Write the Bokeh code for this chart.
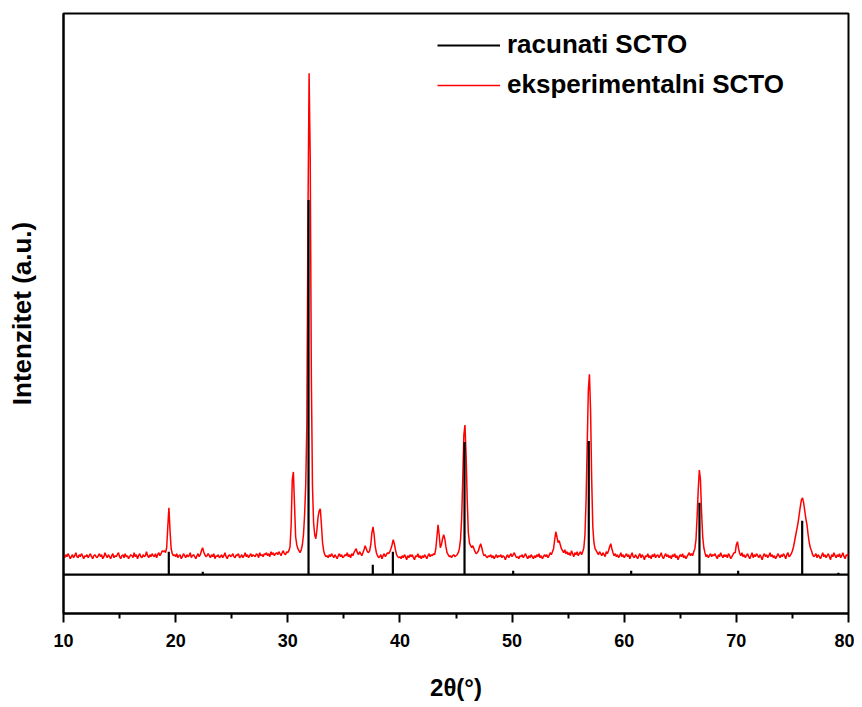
import numpy as np
from bokeh.plotting import figure
from bokeh.models import Range1d, FixedTicker, Legend, LegendItem
from bokeh.embed import file_html
from bokeh.resources import INLINE

# ---- data -------------------------------------------------------------
x_ticks = [10, 20, 30, 40, 50, 60, 70, 80]

# calculated pattern (stick positions / relative intensities)
calc_pos = [19.39, 22.42, 31.85, 37.58, 39.37, 45.76, 50.1, 56.84, 60.62, 66.71, 70.16, 75.87, 79.1]
calc_int = [23, 3, 376, 10, 23, 133, 4, 134, 4, 72, 4, 54, 2]

# experimental pattern, 2theta from 10.0 to 80.0, step 0.1
exp_start = 10.0
exp_step = 0.1
exp_intensity = [
    19, 17, 20, 18, 21, 19, 16, 18, 20, 17,   # 10
    19, 22, 18, 17, 20, 18, 21, 19, 16, 19,   # 11
    18, 20, 17, 19, 21, 18, 16, 19, 20, 18,   # 12
    17, 19, 21, 18, 20, 16, 18, 22, 19, 17,   # 13
    20, 18, 16, 19, 21, 17, 19, 18, 20, 22,   # 14
    18, 16, 19, 20, 17, 21, 18, 19, 16, 18,   # 15
    20, 19, 17, 22, 18, 20, 16, 19, 21, 18,   # 16
    17, 20, 18, 19, 23, 19, 17, 20, 18, 21,   # 17
    19, 18, 21, 17, 20, 22, 19, 21, 24, 23,   # 18
    24, 22, 27, 48, 67, 44, 26, 21, 19, 20,   # 19
    18, 21, 17, 19, 20, 16, 18, 21, 19, 17,   # 20
    20, 18, 19, 22, 17, 19, 20, 18, 16, 19,   # 21
    21, 18, 20, 24, 27, 23, 20, 18, 19, 21,   # 22
    19, 17, 20, 18, 21, 16, 19, 18, 20, 17,   # 23
    18, 20, 17, 19, 22, 18, 16, 19, 20, 18,   # 24
    19, 21, 18, 17, 20, 19, 21, 17, 18, 20,   # 25
    17, 19, 22, 18, 20, 17, 19, 21, 18, 20,   # 26
    19, 18, 21, 20, 17, 22, 19, 20, 18, 21,   # 27
    20, 22, 19, 21, 18, 23, 20, 22, 19, 21,   # 28
    22, 20, 23, 21, 19, 22, 24, 21, 20, 23,   # 29
    22, 24, 28, 50, 95, 103, 70, 38, 30, 26,  # 30
    24, 22, 25, 30, 40, 60, 90, 150, 360, 503,  # 31
    420, 200, 90, 52, 40, 36, 45, 58, 64, 66,  # 32
    50, 32, 24, 20, 18, 19, 17, 20, 18, 21,   # 33
    19, 17, 20, 18, 16, 19, 21, 18, 20, 17,   # 34
    18, 20, 19, 22, 18, 20, 17, 21, 19, 22,   # 35
    24, 26, 22, 20, 23, 21, 19, 22, 25, 29,   # 36
    26, 23, 22, 24, 30, 42, 48, 40, 28, 22,   # 37
    19, 17, 18, 20, 16, 19, 21, 18, 20, 22,   # 38
    21, 23, 26, 30, 35, 31, 25, 20, 18, 17,   # 39
    18, 16, 19, 17, 20, 18, 15, 19, 17, 20,   # 40
    18, 20, 17, 15, 19, 18, 21, 17, 19, 16,   # 41
    19, 17, 20, 18, 16, 19, 21, 18, 20, 19,   # 42
    21, 20, 26, 38, 50, 40, 27, 30, 36, 40,   # 43
    36, 28, 22, 20, 18, 19, 17, 19, 20, 18,   # 44
    19, 20, 22, 26, 35, 55, 95, 140, 150, 120,  # 45
    75, 42, 32, 29, 27, 29, 26, 23, 21, 22,   # 46
    24, 28, 31, 27, 22, 19, 20, 18, 17, 19,   # 47
    18, 20, 17, 19, 16, 18, 20, 17, 19, 18,   # 48
    20, 17, 19, 18, 15, 18, 20, 17, 19, 21,   # 49
    18, 20, 22, 19, 17, 18, 16, 19, 18, 20,   # 50
    17, 19, 21, 18, 16, 19, 17, 20, 18, 16,   # 51
    19, 17, 20, 18, 21, 17, 19, 16, 18, 20,   # 52
    18, 20, 17, 19, 22, 20, 23, 26, 35, 43,   # 53
    38, 32, 34, 30, 26, 24, 22, 25, 21, 23,   # 54
    20, 22, 19, 24, 21, 18, 22, 20, 23, 19,   # 55
    21, 23, 20, 23, 27, 40, 75, 130, 185, 201,  # 56
    165, 95, 48, 32, 26, 24, 22, 20, 23, 21,  # 57
    19, 22, 20, 18, 23, 21, 24, 28, 31, 26,   # 58
    22, 19, 21, 18, 20, 17, 19, 22, 18, 20,   # 59
    17, 19, 21, 18, 20, 16, 19, 22, 18, 17,   # 60
    20, 18, 16, 19, 21, 17, 20, 18, 15, 19,   # 61
    18, 21, 17, 19, 16, 20, 18, 21, 17, 19,   # 62
    20, 17, 19, 22, 18, 16, 19, 21, 18, 20,   # 63
    17, 19, 16, 20, 18, 21, 17, 19, 15, 18,   # 64
    20, 18, 21, 17, 19, 16, 18, 20, 22, 19,   # 65
    21, 19, 23, 26, 35, 58, 85, 105, 95, 62,  # 66
    38, 27, 22, 18, 20, 17, 19, 21, 18, 20,   # 67
    19, 21, 18, 16, 20, 18, 22, 19, 17, 20,   # 68
    18, 20, 17, 21, 19, 16, 18, 20, 22, 22,   # 69
    30, 33, 26, 21, 19, 22, 18, 20, 17, 19,   # 70
    21, 18, 16, 19, 22, 17, 20, 18, 21, 19,   # 71
    17, 20, 18, 15, 19, 21, 18, 20, 17, 19,   # 72
    22, 18, 20, 17, 19, 16, 18, 21, 19, 17,   # 73
    20, 18, 21, 19, 16, 20, 22, 18, 19, 21,   # 74
    24, 28, 34, 40, 46, 52, 60, 68, 75, 77,   # 75
    72, 64, 56, 50, 40, 32, 27, 24, 20, 18,   # 76
    19, 21, 17, 20, 18, 16, 19, 22, 18, 20,   # 77
    17, 19, 21, 18, 15, 20, 18, 22, 19, 17,   # 78
    20, 18, 21, 17, 19, 22, 18, 16, 20, 19,   # 79
    21,                                       # 80
]

legend_labels = ["racunati SCTO", "eksperimentalni SCTO"]
x_label = "2θ(°)"
y_label = "Intenzitet (a.u.)"

# ---- derived ----------------------------------------------------------
exp_x = exp_start + exp_step * np.arange(len(exp_intensity))
x_min, x_max = x_ticks[0], x_ticks[-1]

calc_x = [x_min]
calc_y = [0]
for p_, h_ in zip(calc_pos, calc_int):
    calc_x += [p_, p_, p_]
    calc_y += [0, h_, 0]
calc_x.append(x_max)
calc_y.append(0)

# ---- figure -----------------------------------------------------------
FONT = "Liberation Sans"

p = figure(width=854, height=703, output_backend="svg", toolbar_location=None,
           x_range=Range1d(x_min, x_max), y_range=Range1d(-39, 563),
           min_border_top=13, min_border_left=63, min_border_right=6,
           min_border_bottom=80)
p.grid.visible = False
p.background_fill_color = "white"
p.border_fill_color = "white"
p.outline_line_color = "black"
p.outline_line_width = 2

r_exp = p.line(exp_x, exp_intensity, line_color="#ff0000", line_width=1.5)
r_calc = p.line(calc_x, calc_y, line_color="black", line_width=2.2)

# x axis
xa = p.xaxis[0]
xa.ticker = FixedTicker(ticks=x_ticks, minor_ticks=[t + 5 for t in x_ticks[:-1]])
xa.axis_line_width = 2
xa.axis_line_color = "black"
xa.major_tick_line_width = 2
xa.minor_tick_line_width = 2
xa.major_tick_line_color = "black"
xa.minor_tick_line_color = "black"
xa.major_tick_in = 0
xa.major_tick_out = 9
xa.minor_tick_in = 0
xa.minor_tick_out = 5
xa.major_label_standoff = 11
xa.major_label_text_font = FONT
xa.major_label_text_font_style = "bold"
xa.major_label_text_font_size = "18px"
xa.major_label_text_color = "black"
xa.axis_label = x_label
xa.axis_label_text_font = FONT
xa.axis_label_text_font_style = "bold"
xa.axis_label_text_font_size = "24px"
xa.axis_label_text_color = "black"
xa.axis_label_standoff = 24

# y axis: label only
ya = p.yaxis[0]
ya.ticker = FixedTicker(ticks=[])
ya.major_tick_out = 0
ya.major_tick_in = 0
ya.minor_tick_out = 0
ya.axis_line_width = 2
ya.axis_line_color = "black"
ya.axis_label = y_label
ya.axis_label_text_font = FONT
ya.axis_label_text_font_style = "bold"
ya.axis_label_text_font_size = "26px"
ya.axis_label_text_color = "black"
ya.axis_label_standoff = 27

legend = Legend(items=[LegendItem(label=legend_labels[0], renderers=[r_calc]),
                       LegendItem(label=legend_labels[1], renderers=[r_exp])],
                location=(374, 513), padding=0, margin=0, spacing=9,
                glyph_width=63, glyph_height=20, label_height=20,
                label_standoff=7, border_line_alpha=0, background_fill_alpha=0,
                label_text_font=FONT, label_text_font_style="bold",
                label_text_font_size="26px", label_text_color="black")
p.add_layout(legend)

open("out.html", "w").write(file_html(p, INLINE))
